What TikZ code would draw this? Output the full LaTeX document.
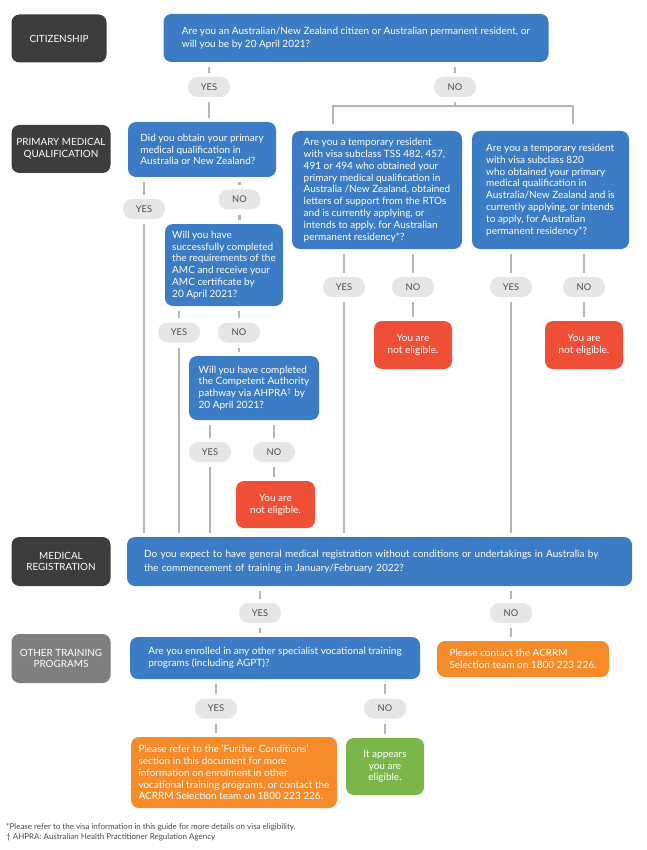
\documentclass[tikz,border=0pt]{standalone}
\usepackage{fontspec}
\setmainfont{Lato}
\definecolor{qblue}{HTML}{3C7CC4}
\definecolor{nered}{HTML}{EF4E37}
\definecolor{orng}{HTML}{F68B2A}
\definecolor{grn}{HTML}{7AB648}
\definecolor{labdark}{HTML}{3D3D3D}
\definecolor{lablight}{HTML}{7F7F7F}
\definecolor{pillgray}{HTML}{E5E6E7}
\definecolor{pilltext}{HTML}{4D4D4D}
\definecolor{linegray}{HTML}{B5B6B8}
\definecolor{foottext}{HTML}{4A4A4A}
\begin{document}
\begin{tikzpicture}[x=1pt,y=-1pt,
  box/.style={rounded corners=8pt, inner sep=0pt, align=left, text=white,
    font=\fontsize{10}{11.8}\selectfont},
  qbox/.style={box, fill=qblue},
  nebox/.style={box, fill=nered, align=center, minimum width=78pt, minimum height=48pt},
  obox/.style={box, fill=orng},
  gbox/.style={box, fill=grn, align=center},
  lab/.style={rounded corners=8pt, inner sep=0pt, fill=labdark, text=white, align=center,
    minimum width=99pt, minimum height=48pt, font=\fontsize{9.9}{11.8}\selectfont},
  pill/.style={fill=pillgray, rounded corners=9.5pt, minimum width=42pt, minimum height=20pt,
    inner sep=0pt, text=pilltext, font=\fontsize{9.3}{10}\selectfont},
  conn/.style={draw=linegray, line width=2.2pt, shorten <=5pt, shorten >=4pt},
  barline/.style={draw=linegray, line width=2.2pt, shorten <=7pt, shorten >=7pt},
  foot/.style={inner sep=0pt, text=foottext, align=left, font=\fontsize{8}{10.5}\selectfont}
]
\useasboundingbox[fill=white] (0,0) rectangle (646,850);

% side labels
\node[lab, minimum width=95pt] (l1) at (59,38.5) {CITIZENSHIP};
\node[lab] (l2) at (61,149) {PRIMARY MEDICAL\\QUALIFICATION};
\node[lab, minimum height=49pt] (l3) at (61,561.5) {MEDICAL\\REGISTRATION};
\node[lab, fill=lablight, minimum height=49pt] (l4) at (61,658.5) {OTHER TRAINING\\PROGRAMS};

% question boxes
\node[qbox, minimum width=385pt, minimum height=48pt, font=\fontsize{10}{12.7}\selectfont] (q1) at (356,38)
  {Are you an Australian/New Zealand citizen or Australian permanent resident, or\\will you be by 20 April 2021?};
\node[qbox, minimum width=148pt, minimum height=55pt] (q2) at (202,149.5)
  {Did you obtain your primary\\medical qualification in\\Australia or New Zealand?};
\node[qbox, minimum width=170pt, minimum height=118pt] (q3) at (377,190)
  {Are you a temporary resident\\with visa subclass TSS 482, 457,\\491 or 494 who obtained your\\primary medical qualification in\\Australia /New Zealand, obtained\\letters of support from the RTOs\\and is currently applying, or\\intends to apply, for Australian\\permanent residency*?};
\node[qbox, minimum width=157pt, minimum height=118pt] (q4) at (550.5,190)
  {Are you a temporary resident\\with visa subclass 820\\who obtained your primary\\medical qualification in\\Australia/New Zealand and is\\currently applying, or intends\\to apply, for Australian\\permanent residency*?};
\node[qbox, minimum width=118pt, minimum height=82pt] (q5) at (224,265)
  {Will you have\\successfully completed\\the requirements of the\\AMC and receive your\\AMC certificate by\\20 April 2021?};
\node[qbox, minimum width=130pt, minimum height=64pt] (q6) at (254,388)
  {Will you have completed\\the Competent Authority\\pathway via AHPRA\textsuperscript{†} by\\20 April 2021?};
\node[qbox, minimum height=49pt, text width=471pt, inner xsep=17pt,
  font=\fontsize{10}{13.5}\selectfont] (mr) at (379.5,561.5)
  {Do you expect to have general medical registration without conditions or undertakings in Australia by\\the commencement of training in January/February 2022?};
\node[qbox, minimum width=290pt, minimum height=42pt] (ot) at (275,658)
  {Are you enrolled in any other specialist vocational training\\programs (including AGPT)?};

% outcome boxes
\node[nebox] (ne3) at (413,345) {You are\\not eligible.};
\node[nebox] (ne4) at (584,345) {You are\\not eligible.};
\node[nebox, minimum width=79pt, minimum height=47pt] (ne6) at (275.5,504.5) {You are\\not eligible.};
\node[obox, minimum width=172pt, minimum height=36pt] (acr) at (523,659)
  {Please contact the ACRRM\\Selection team on 1800 223 226.};
\node[obox, minimum width=206pt, minimum height=71pt] (fc) at (234,772.5)
  {Please refer to the ‘Further Conditions’\\section in this document for more\\information on enrolment in other\\vocational training programs, or contact the\\ACRRM Selection team on 1800 223 226.};
\node[gbox, minimum width=78pt, minimum height=57pt] (el) at (385,766.5)
  {It appears\\you are\\eligible.};

% pills
\node[pill] (yes1) at (209,87) {YES};
\node[pill] (no1) at (455,87) {NO};
\node[pill] (yes2) at (144,209) {YES};
\node[pill] (no2) at (239.5,199.5) {NO};
\node[pill] (yes5) at (179,332.5) {YES};
\node[pill] (no5) at (239,332.5) {NO};
\node[pill] (yes6) at (210,452) {YES};
\node[pill] (no6) at (274,452) {NO};
\node[pill] (yes3) at (344,287) {YES};
\node[pill] (no3) at (413,287) {NO};
\node[pill] (yes4) at (511,287) {YES};
\node[pill] (no4) at (584,287) {NO};
\node[pill] (yesm) at (260,613) {YES};
\node[pill] (nom) at (511,613) {NO};
\node[pill] (yeso) at (216,708.5) {YES};
\node[pill] (noo) at (385,708.5) {NO};

% connectors
\coordinate (bL) at (333,106);
\coordinate (bR) at (573,106);
\draw[conn] (q1.south -| yes1) -- (yes1.north);
\draw[conn] (yes1.south) -- (yes1.south |- q2.north);
\draw[conn] (q1.south -| no1) -- (no1.north);
\draw[conn, shorten >=0pt] (no1.south) -- (no1.south |- bL);
\draw[barline] (bL |- q3.north) -- (bL) -- (bR) -- (bR |- q4.north);

\draw[conn] (q2.south -| yes2) -- (yes2.north);
\draw[conn] (yes2.south) -- (yes2.south |- mr.north);
\draw[conn] (q2.south -| no2) -- (no2.north);
\draw[conn] (no2.south) -- (no2.south |- q5.north);

\draw[conn] (q5.south -| yes5) -- (yes5.north);
\draw[conn] (yes5.south) -- (yes5.south |- mr.north);
\draw[conn] (q5.south -| no5) -- (no5.north);
\draw[conn] (no5.south) -- (no5.south |- q6.north);

\draw[conn] (q6.south -| yes6) -- (yes6.north);
\draw[conn] (yes6.south) -- (yes6.south |- mr.north);
\draw[conn] (q6.south -| no6) -- (no6.north);
\draw[conn] (no6.south) -- (no6.south |- ne6.north);

\draw[conn] (q3.south -| yes3) -- (yes3.north);
\draw[conn] (yes3.south) -- (yes3.south |- mr.north);
\draw[conn] (q3.south -| no3) -- (no3.north);
\draw[conn] (no3.south) -- (no3.south |- ne3.north);

\draw[conn] (q4.south -| yes4) -- (yes4.north);
\draw[conn] (yes4.south) -- (yes4.south |- mr.north);
\draw[conn] (q4.south -| no4) -- (no4.north);
\draw[conn] (no4.south) -- (no4.south |- ne4.north);

\draw[conn] (mr.south -| yesm) -- (yesm.north);
\draw[conn] (yesm.south) -- (yesm.south |- ot.north);
\draw[conn] (mr.south -| nom) -- (nom.north);
\draw[conn] (nom.south) -- (nom.south |- acr.north);

\draw[conn] (ot.south -| yeso) -- (yeso.north);
\draw[conn] (yeso.south) -- (yeso.south |- fc.north);
\draw[conn] (ot.south -| noo) -- (noo.north);
\draw[conn] (noo.south) -- (noo.south |- el.north);

% footnotes
\node[foot, anchor=west] (f1) at (6,827) {*Please refer to the visa information in this guide for more details on visa eligibility.};
\node[foot, anchor=west] (f2) at (6,837.5) {† AHPRA: Australian Health Practitioner Regulation Agency};
\end{tikzpicture}
\end{document}
